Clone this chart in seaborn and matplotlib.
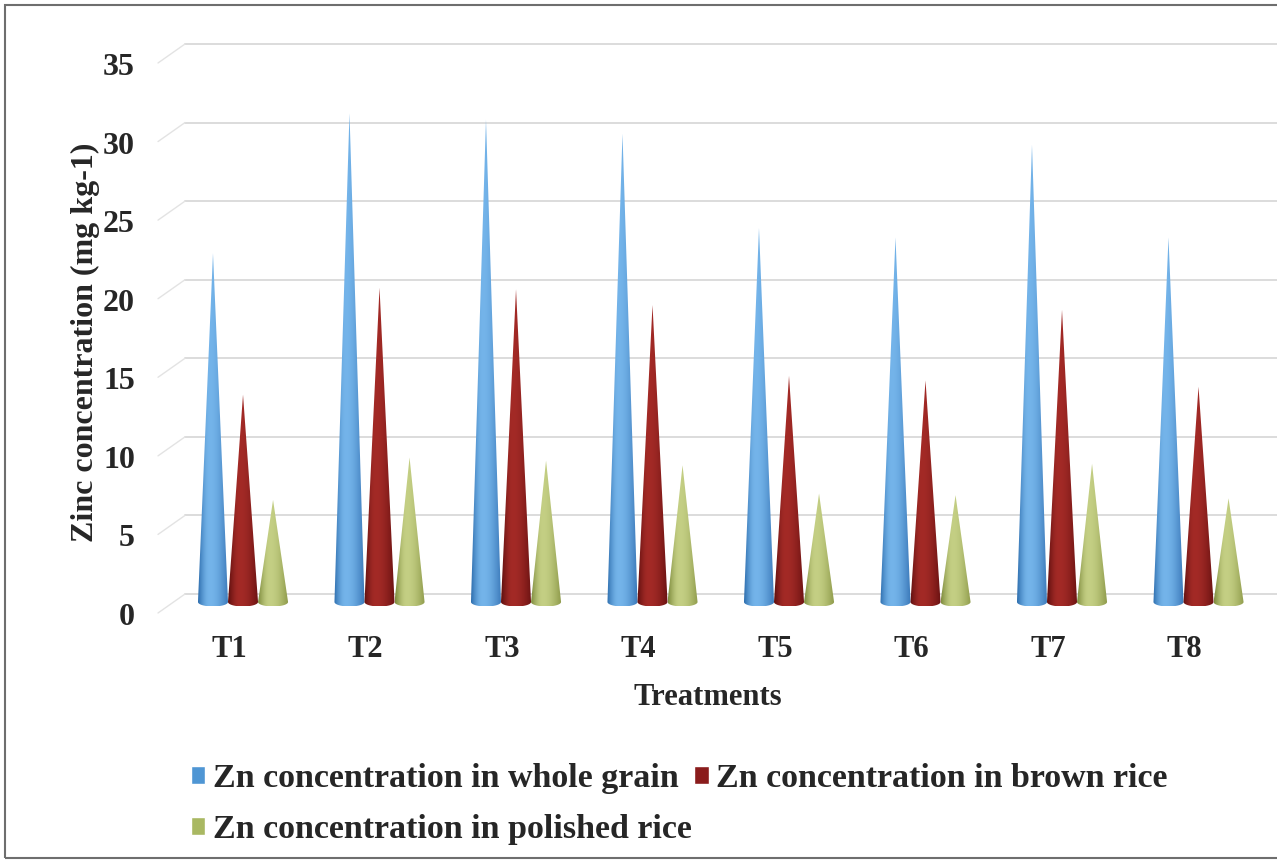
import numpy as np
import pandas as pd
import seaborn as sns
import matplotlib.pyplot as plt
from matplotlib.patches import Polygon, Patch, Rectangle
from matplotlib.colors import to_rgb
from matplotlib.transforms import ScaledTranslation

# Zinc concentration (mg kg-1) per treatment
treatments = ["T1", "T2", "T3", "T4", "T5", "T6", "T7", "T8"]
whole_grain = [22.2, 31.1, 30.7, 29.8, 23.8, 23.2, 29.1, 23.2]
brown_rice = [13.2, 20.0, 19.9, 18.9, 14.4, 14.1, 18.6, 13.7]
polished_rice = [6.5, 9.2, 9.0, 8.7, 6.9, 6.8, 8.8, 6.6]

series_names = [
    "Zn concentration in whole grain",
    "Zn concentration in brown rice",
    "Zn concentration in polished rice",
]
y_ticks = [0, 5, 10, 15, 20, 25, 30, 35]

base_colors = ["#4f96d4", "#8a1c1c", "#a9b862"]
# edge / highlight / edge shading for each cone
shades = [
    ("#2f6fae", "#74b4ea", "#3a78b8"),
    ("#5e0f0f", "#a32a26", "#6a1212"),
    ("#7f8c3e", "#c4cf84", "#8c9848"),
]

df = pd.DataFrame({
    "Treatment": treatments * 3,
    "Fraction": np.repeat(series_names, len(treatments)),
    "Zn": whole_grain + brown_rice + polished_rice,
})

sns.set_style("white")
SERIF = ["Liberation Serif", "DejaVu Serif"]
plt.rcParams["font.family"] = SERIF

W, H = 1277, 863
fig = plt.figure(figsize=(W / 100, H / 100), dpi=100)
ax = fig.add_axes([185 / W, 261 / H, 1092 / W, 550 / H])

sns.barplot(data=df, x="Treatment", y="Zn", hue="Fraction",
            palette=base_colors, width=0.66, errorbar=None,
            legend=False, ax=ax)

ax.set_xlim(-0.425, 7.575)
ax.set_ylim(0, 35)

px_per_unit = 550 / 35.0
back_dy = 8 / px_per_unit        # back wall sits a few pixels higher
front_dy = -11 / px_per_unit     # front floor edge sits lower
stub_dx = -27 / 1092

# back-wall gridlines and the short floor edges on the left
for v in y_ticks:
    ax.plot([0, 1], [v + back_dy, v + back_dy], transform=ax.get_yaxis_transform(),
            color="#d9d9d9", lw=1.3, zorder=0, clip_on=False)
    ax.plot([stub_dx, 0], [v + front_dy, v + back_dy], transform=ax.get_yaxis_transform(),
            color="#e3e3e3", lw=1.0, zorder=0, clip_on=False)

# turn every bar into a shaded cone with a rounded base
dip = 4.5 / px_per_unit
t = np.linspace(0, np.pi, 25)
for k, container in enumerate(ax.containers):
    c_left, c_mid, c_right = (np.array(to_rgb(c)) for c in shades[k])
    u = np.linspace(0, 1, 64)
    grad = np.empty((1, len(u), 3))
    for i, s in enumerate(u):
        if s < 0.38:
            f = np.sin(s / 0.38 * np.pi / 2)
            grad[0, i] = c_left + (c_mid - c_left) * f
        else:
            f = np.sin((1 - s) / 0.62 * np.pi / 2)
            grad[0, i] = c_right + (c_mid - c_right) * f
    for bar in container:
        x0, w, h = bar.get_x(), bar.get_width(), bar.get_height()
        bar.set_visible(False)
        arc = np.column_stack([x0 + w * (1 - np.cos(t)) / 2, -dip * np.sin(t)])
        pts = np.vstack([arc, [[x0 + w / 2, h]]])
        cone = Polygon(pts, closed=True, facecolor="none", edgecolor="none",
                       transform=ax.transData)
        ax.add_patch(cone)
        im = ax.imshow(grad, extent=(x0, x0 + w, -dip, h), aspect="auto",
                       interpolation="bilinear", zorder=3)
        im.set_clip_box(fig.bbox)
        im.set_clip_path(cone)

ax.set_xlim(-0.425, 7.575)
ax.set_ylim(0, 35)
ax.set_aspect("auto")

for side in ["top", "right", "left", "bottom"]:
    ax.spines[side].set_visible(False)

ax.set_yticks(y_ticks)
ax.set_yticklabels([str(v) for v in y_ticks])
ax.tick_params(axis="y", length=0, pad=36, labelsize=23)
ax.tick_params(axis="x", length=0, pad=24, labelsize=22)
for lbl in ax.get_yticklabels() + ax.get_xticklabels():
    lbl.set_fontweight("bold")
    lbl.set_fontfamily(SERIF)
for lbl in ax.get_yticklabels():
    lbl.set_transform(lbl.get_transform() + ScaledTranslation(0, -12 / 100, fig.dpi_scale_trans))
for lbl in ax.get_xticklabels():
    lbl.set_transform(lbl.get_transform() + ScaledTranslation(-14 / 100, 0, fig.dpi_scale_trans))

ax.set_xlabel("Treatments", fontsize=22, fontweight="bold", family=SERIF)
ax.set_ylabel("Zinc concentration (mg kg-1)", fontsize=23, fontweight="bold", family=SERIF)
ax.xaxis.set_label_coords(0.479, -0.147)
ax.yaxis.set_label_coords(-0.078, 0.473)

handles = [Patch(facecolor=base_colors[0]), Patch(facecolor=base_colors[2]),
           Patch(facecolor=base_colors[1])]
labels = [series_names[0], series_names[2], series_names[1]]
fig.legend(handles, labels, loc="upper left", bbox_to_anchor=(191 / W, 1 - 763 / H),
           ncol=2, frameon=False, borderpad=0, borderaxespad=0,
           handlelength=0.42, handleheight=0.42, handletextpad=0.22,
           columnspacing=0.08, labelspacing=0.6,
           prop={"family": SERIF, "weight": "bold", "size": 24.5})

# outer chart border
fig.patches.append(Rectangle((5 / W, 5 / H), 1.2, 1 - 10 / H, transform=fig.transFigure,
                             fill=False, edgecolor="#6e6e6e", lw=1.5))

fig.savefig("out.png", dpi=100)
